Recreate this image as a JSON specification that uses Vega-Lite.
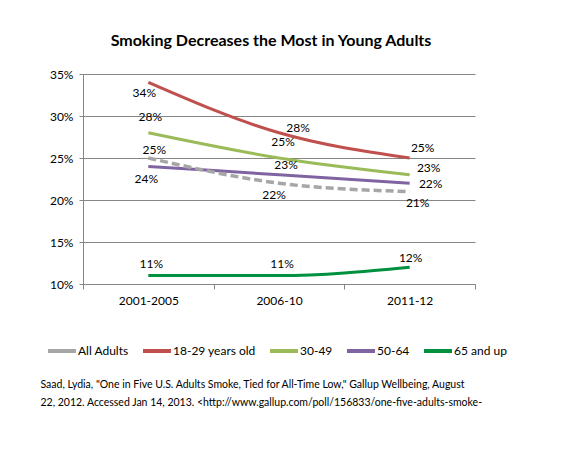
{
  "$schema": "https://vega.github.io/schema/vega-lite/v6.json",
  "autosize": "none",
  "width": 392,
  "height": 210,
  "padding": {"left": 83, "top": 74, "right": 93, "bottom": 170},
  "background": "white",
  "title": {
    "text": "Smoking Decreases the Most in Young Adults",
    "font": "Lato",
    "fontSize": 16,
    "fontWeight": "bold",
    "color": "#000000",
    "anchor": "middle",
    "dx": -8,
    "offset": 19
  },
  "config": {
    "font": "Lato",
    "view": {"stroke": null},
    "text": {"font": "Lato", "fontSize": 12, "color": "#000000"}
  },
  "data": {
    "values": [
      {"period": "2001-2005", "series": "All Adults", "value": 0.25},
      {"period": "2006-10", "series": "All Adults", "value": 0.22},
      {"period": "2011-12", "series": "All Adults", "value": 0.21},
      {"period": "2001-2005", "series": "18-29 years old", "value": 0.34},
      {"period": "2006-10", "series": "18-29 years old", "value": 0.28},
      {"period": "2011-12", "series": "18-29 years old", "value": 0.25},
      {"period": "2001-2005", "series": "30-49", "value": 0.28},
      {"period": "2006-10", "series": "30-49", "value": 0.25},
      {"period": "2011-12", "series": "30-49", "value": 0.23},
      {"period": "2001-2005", "series": "50-64", "value": 0.24},
      {"period": "2006-10", "series": "50-64", "value": 0.23},
      {"period": "2011-12", "series": "50-64", "value": 0.22},
      {"period": "2001-2005", "series": "65 and up", "value": 0.11},
      {"period": "2006-10", "series": "65 and up", "value": 0.11},
      {"period": "2011-12", "series": "65 and up", "value": 0.12}
    ]
  },
  "encoding": {
    "x": {
      "field": "period",
      "type": "ordinal",
      "sort": ["2001-2005", "2006-10", "2011-12"],
      "scale": {"type": "band", "paddingInner": 0, "paddingOuter": 0},
      "axis": {
        "labelAngle": 0,
        "labelFontSize": 12,
        "labelColor": "#000000",
        "labelPadding": 6,
        "tickBand": "extent",
        "tickSize": 5,
        "tickColor": "#868686",
        "domainColor": "#868686",
        "grid": false,
        "title": ["Saad, Lydia, \"One in Five U.S. Adults Smoke, Tied for All-Time Low,\"  Gallup Wellbeing,  August", "22, 2012. Accessed Jan 14, 2013. <http://www.gallup.com/poll/156833/one-five-adults-smoke-"],
        "titleFont": "Lato",
        "titleFontSize": 10.5,
        "titleFontWeight": "normal",
        "titleColor": "#000000",
        "titleAnchor": "start",
        "titleAlign": "left",
        "titleBaseline": "top",
        "titleX": -43,
        "titleY": 95,
        "titleLineHeight": 18
      }
    },
    "y": {
      "field": "value",
      "type": "quantitative",
      "scale": {"domain": [0.1, 0.35], "nice": false, "zero": false},
      "axis": {
        "values": [0.1, 0.15, 0.2, 0.25, 0.3, 0.35],
        "format": ".0%",
        "title": null,
        "labelFontSize": 12,
        "labelColor": "#000000",
        "labelPadding": 6,
        "tickSize": 4,
        "tickColor": "#868686",
        "domainColor": "#868686",
        "gridColor": "#868686",
        "gridOpacity": 1
      }
    }
  },
  "layer": [
    {
      "transform": [{"filter": "datum.series != 'All Adults'"}],
      "mark": {"type": "line", "strokeWidth": 3, "interpolate": "monotone"},
      "encoding": {
        "color": {
          "field": "series",
          "type": "nominal",
          "scale": {
            "domain": ["All Adults", "18-29 years old", "30-49", "50-64", "65 and up"],
            "range": ["#A6A6A6", "#C0504D", "#9BBB59", "#8064A2", "#00913F"]
          },
          "legend": {
            "orient": "none",
            "direction": "horizontal",
            "legendX": -37,
            "legendY": 261,
            "title": null,
            "symbolType": "stroke",
            "symbolSize": 784,
            "symbolStrokeWidth": 4,
            "labelFontSize": 12,
            "labelColor": "#000000",
            "labelOffset": 0,
            "columnPadding": 6
          }
        }
      }
    },
    {
      "transform": [{"filter": "datum.series == 'All Adults'"}],
      "mark": {"type": "line", "strokeWidth": 3.5, "strokeDash": [8, 4], "interpolate": "monotone"},
      "encoding": {"color": {"field": "series", "type": "nominal"}}
    },
    {
      "transform": [{"filter": "datum.series == '18-29 years old' && datum.period == '2001-2005'"}],
      "mark": {"type": "text", "dx": -4, "dy": 11},
      "encoding": {"text": {"field": "value", "type": "quantitative", "format": ".0%"}}
    },
    {
      "transform": [{"filter": "datum.series == '18-29 years old' && datum.period == '2006-10'"}],
      "mark": {"type": "text", "dx": 19, "dy": -5},
      "encoding": {"text": {"field": "value", "type": "quantitative", "format": ".0%"}}
    },
    {
      "transform": [{"filter": "datum.series == '18-29 years old' && datum.period == '2011-12'"}],
      "mark": {"type": "text", "dx": 13, "dy": -10},
      "encoding": {"text": {"field": "value", "type": "quantitative", "format": ".0%"}}
    },
    {
      "transform": [{"filter": "datum.series == '30-49' && datum.period == '2001-2005'"}],
      "mark": {"type": "text", "dx": 2, "dy": -16},
      "encoding": {"text": {"field": "value", "type": "quantitative", "format": ".0%"}}
    },
    {
      "transform": [{"filter": "datum.series == '30-49' && datum.period == '2006-10'"}],
      "mark": {"type": "text", "dx": 4, "dy": -16},
      "encoding": {"text": {"field": "value", "type": "quantitative", "format": ".0%"}}
    },
    {
      "transform": [{"filter": "datum.series == '30-49' && datum.period == '2011-12'"}],
      "mark": {"type": "text", "dx": 19, "dy": -7},
      "encoding": {"text": {"field": "value", "type": "quantitative", "format": ".0%"}}
    },
    {
      "transform": [{"filter": "datum.series == '50-64' && datum.period == '2001-2005'"}],
      "mark": {"type": "text", "dx": -2, "dy": 13},
      "encoding": {"text": {"field": "value", "type": "quantitative", "format": ".0%"}}
    },
    {
      "transform": [{"filter": "datum.series == '50-64' && datum.period == '2006-10'"}],
      "mark": {"type": "text", "dx": 7, "dy": -10},
      "encoding": {"text": {"field": "value", "type": "quantitative", "format": ".0%"}}
    },
    {
      "transform": [{"filter": "datum.series == '50-64' && datum.period == '2011-12'"}],
      "mark": {"type": "text", "dx": 21, "dy": 1},
      "encoding": {"text": {"field": "value", "type": "quantitative", "format": ".0%"}}
    },
    {
      "transform": [{"filter": "datum.series == 'All Adults' && datum.period == '2001-2005'"}],
      "mark": {"type": "text", "dx": 6, "dy": -8},
      "encoding": {"text": {"field": "value", "type": "quantitative", "format": ".0%"}}
    },
    {
      "transform": [{"filter": "datum.series == 'All Adults' && datum.period == '2006-10'"}],
      "mark": {"type": "text", "dx": -5, "dy": 12},
      "encoding": {"text": {"field": "value", "type": "quantitative", "format": ".0%"}}
    },
    {
      "transform": [{"filter": "datum.series == 'All Adults' && datum.period == '2011-12'"}],
      "mark": {"type": "text", "dx": 8, "dy": 11},
      "encoding": {"text": {"field": "value", "type": "quantitative", "format": ".0%"}}
    },
    {
      "transform": [{"filter": "datum.series == '65 and up' && datum.period != '2011-12'"}],
      "mark": {"type": "text", "dx": 3, "dy": -12},
      "encoding": {"text": {"field": "value", "type": "quantitative", "format": ".0%"}}
    },
    {
      "transform": [{"filter": "datum.series == '65 and up' && datum.period == '2011-12'"}],
      "mark": {"type": "text", "dx": 1, "dy": -9},
      "encoding": {"text": {"field": "value", "type": "quantitative", "format": ".0%"}}
    }
  ]
}
